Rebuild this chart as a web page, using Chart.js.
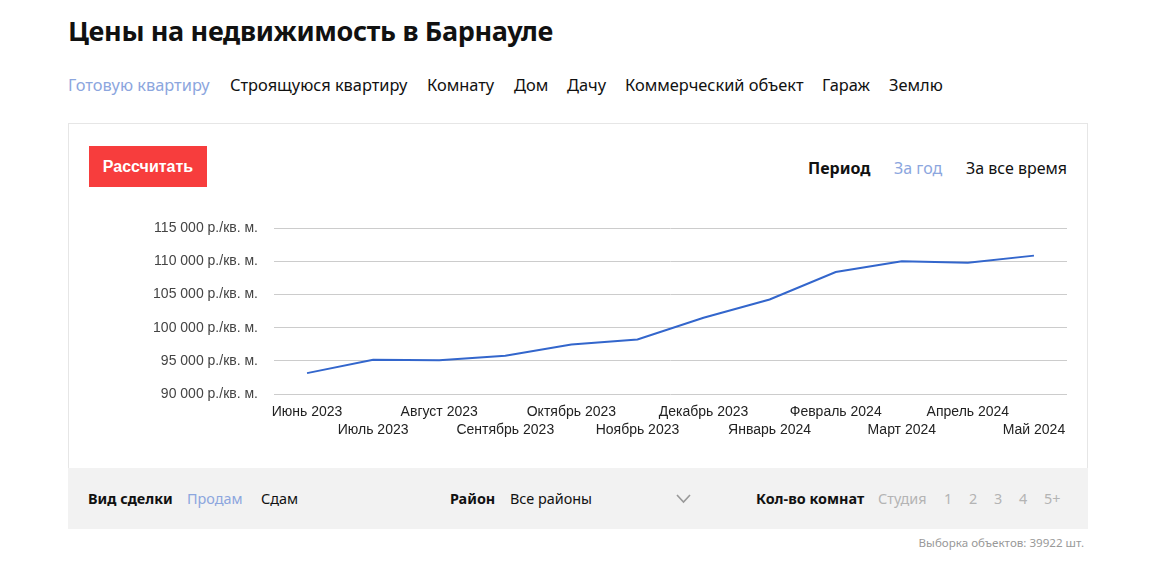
<!DOCTYPE html>
<html lang="ru">
<head>
<meta charset="utf-8">
<script src="https://cdn.jsdelivr.net/npm/chart.js@4.4.1/dist/chart.umd.min.js"></script>
<style>
    html, body { margin: 0; padding: 0; background: #fff; }
    body { width: 1155px; height: 561px; position: relative; overflow: hidden;
           font-family: "Noto Sans", sans-serif; color: #111; }
    .abs { position: absolute; white-space: nowrap; }
    h1 { position: absolute; left: 68px; top: 12px; margin: 0; font-size: 27px; font-weight: 700; letter-spacing: -0.35px; }
    .tab { top: 73px; font-size: 16.4px; }
    .blue { color: #8ca6de; }
    .card { position: absolute; left: 68px; top: 123px; width: 1018px; height: 344px; border: 1px solid #e6e6e6; border-bottom: none; }
    .foot { position: absolute; left: 68px; top: 468px; width: 1020px; height: 61px; background: #f2f2f2; }
    .btn { left: 89px; top: 146px; width: 118px; height: 41px; background: #f73d3d; color: #fff;
           font: bold 16px "Liberation Sans", Arial, sans-serif; line-height: 41px; text-align: center; }
    .per { top: 157px; font-size: 16px; }
    .f { top: 489px; font-size: 14.4px; }
    .b { font-weight: 700; }
    .grey { color: #b4b4b4; }
    #wrap { position: absolute; left: 140px; top: 204px; width: 935px; height: 241px; }
</style>
</head>
<body>
<h1>Цены на недвижимость в Барнауле</h1>
<div class="abs tab blue" style="left:68px">Готовую квартиру</div>
<div class="abs tab" style="left:230px">Строящуюся квартиру</div>
<div class="abs tab" style="left:427px">Комнату</div>
<div class="abs tab" style="left:514px">Дом</div>
<div class="abs tab" style="left:567px">Дачу</div>
<div class="abs tab" style="left:625px">Коммерческий объект</div>
<div class="abs tab" style="left:822px">Гараж</div>
<div class="abs tab" style="left:889px">Землю</div>

<div class="card"></div>
<div class="abs btn">Рассчитать</div>
<div class="abs per b" style="left:808px">Период</div>
<div class="abs per blue" style="left:894px">За год</div>
<div class="abs per" style="left:966px">За все время</div>

<div id="wrap"><canvas id="myChart"></canvas></div>

<div class="foot"></div>
<div class="abs f b" style="left:88px">Вид сделки</div>
<div class="abs f blue" style="left:187px">Продам</div>
<div class="abs f" style="left:261px">Сдам</div>
<div class="abs f b" style="left:450px">Район</div>
<div class="abs f" style="left:510px">Все районы</div>
<svg class="abs" style="left:676px;top:494px" width="15" height="10" viewBox="0 0 15 10">
    <polyline points="1,1 7.5,8 14,1" fill="none" stroke="#999" stroke-width="1.6"/>
</svg>
<div class="abs f b" style="left:756px">Кол-во комнат</div>
<div class="abs f grey" style="left:878px">Студия</div>
<div class="abs f grey" style="left:944px">1</div>
<div class="abs f grey" style="left:969px">2</div>
<div class="abs f grey" style="left:994px">3</div>
<div class="abs f grey" style="left:1019px">4</div>
<div class="abs f grey" style="left:1044px">5+</div>
<div class="abs" style="right:71px;top:535px;font-size:11.6px;color:#999">Выборка объектов: 39922 шт.</div>

<script>
    var months = ["Июнь 2023", "Июль 2023", "Август 2023", "Сентябрь 2023", "Октябрь 2023", "Ноябрь 2023",
        "Декабрь 2023", "Январь 2024", "Февраль 2024", "Март 2024", "Апрель 2024", "Май 2024"];
    var prices = [93150, 95170, 95080, 95770, 97480, 98240, 101500, 104260, 108420, 110030, 109830, 110890];
    var yTicks = [90000, 95000, 100000, 105000, 110000, 115000];

    function fmt(v) {
        return String(v).replace(/\B(?=(\d{3})+(?!\d))/g, " ") + " р./кв. м.";
    }

    var ctx = document.getElementById("myChart");
    var myChart = new Chart(ctx, {
        type: 'line',
        data: {
            labels: months,
            datasets: [{
                label: "Цена",
                data: prices,
                borderColor: "#3366cc",
                borderWidth: 2,
                pointRadius: 0,
                tension: 0,
                fill: false
            }]
        },
        options: {
            responsive: true,
            maintainAspectRatio: false,
            animation: false,
            layout: { padding: { top: 5, right: 8 } },
            plugins: { legend: { display: false }, tooltip: { enabled: false } },
            scales: {
                x: {
                    offset: true,
                    grid: { display: false, drawTicks: false, offset: true },
                    border: { display: false },
                    afterFit: function (scale) { scale.height = 51; },
                    ticks: {
                        autoSkip: false,
                        maxRotation: 0,
                        padding: 9,
                        color: "#222",
                        font: { family: "'Liberation Sans', Arial", size: 14, lineHeight: 1.3 },
                        callback: function (v, i) {
                            return i % 2 === 0 ? [months[i], ""] : ["", months[i]];
                        }
                    }
                },
                y: {
                    min: yTicks[0],
                    max: yTicks[yTicks.length - 1],
                    afterBuildTicks: function (scale) {
                        scale.ticks = yTicks.map(function (v) { return { value: v }; });
                    },
                    afterFit: function (scale) { scale.width = 134; },
                    grid: { color: "#cccccc", drawTicks: false },
                    border: { display: false },
                    ticks: {
                        padding: 16,
                        color: "#444",
                        font: { family: "'Liberation Sans', Arial", size: 14 },
                        callback: function (v) { return fmt(v); }
                    }
                }
            }
        }
    });
</script>
</body>
</html>
